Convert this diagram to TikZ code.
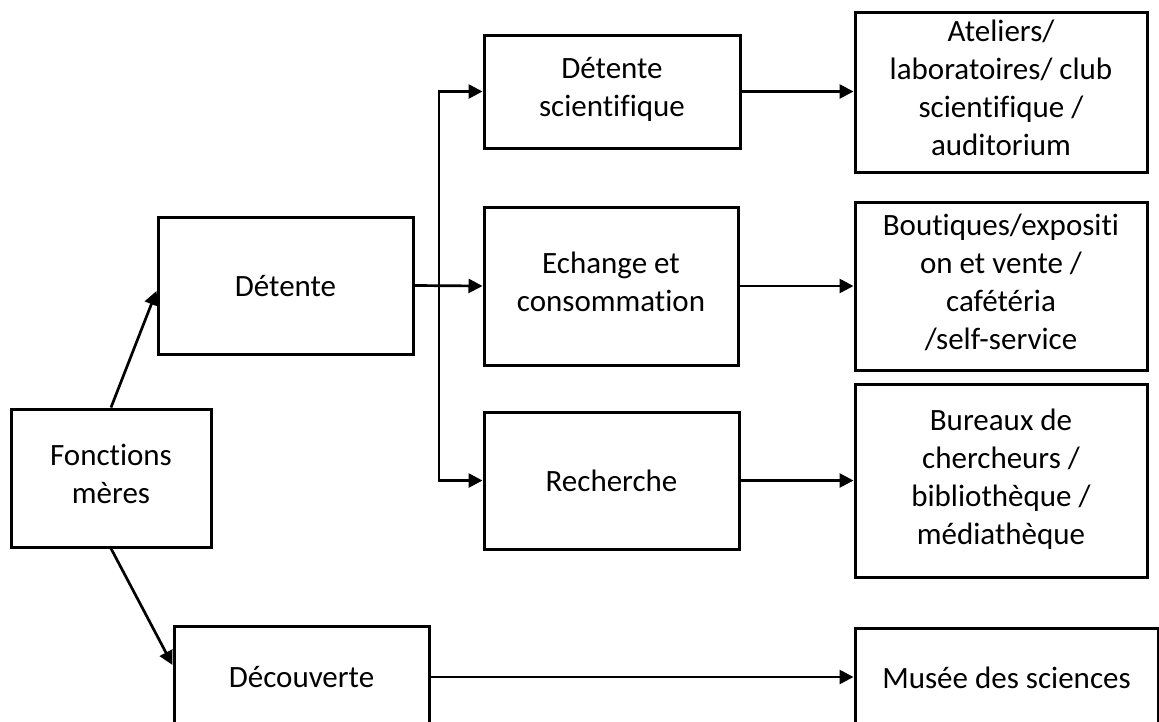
\documentclass[tikz,border=0pt]{standalone}
\usepackage{fontspec}
\setmainfont{Carlito}[Ligatures=NoCommon]
\usetikzlibrary{arrows.meta}
% strut giving each text line the full ascent/descent of the font
\newcommand\bxstrut{\rule[-8.3pt]{0pt}{37.8pt}}
\begin{document}
\begin{tikzpicture}[x=1pt,y=-1pt,
  box/.style={draw=black, line width=3pt, rectangle, inner sep=0pt, align=center,
    font=\fontsize{31}{38}\selectfont,
    execute at begin node=\bxstrut, execute at end node=\bxstrut},
  link/.style={draw=black, line width=2.7pt, line join=miter,
    -{Triangle[length=14pt,width=14pt]}}]
\useasboundingbox (0,0) rectangle (1159,721);
\path[clip] (0,0) rectangle (1159,721);

% root
\node[box, minimum width=200pt, minimum height=138pt] (F) at (111,478) {Fonctions\\mères};

% first level
\node[box, minimum width=255pt, minimum height=137pt] (D) at (285.5,285.5) {Détente};
\node[box, minimum width=255pt, minimum height=102pt] (Dc) at (301.5,677) {Découverte};

% second level
\node[box, minimum width=256pt, minimum height=113pt] (DS) at (612,91.5) {Détente\\scientifique};
\node[box, minimum width=254pt, minimum height=158pt] (E) at (611,286) {Echange et\\consommation};
\node[box, minimum width=255pt, minimum height=137pt] (Rc) at (611.5,480.5) {Recherche};

% spaces
\node[box, minimum width=292pt, minimum height=160pt] (R1) at (1001,92) {Ateliers/\\laboratoires/ club\\scientifique /\\auditorium};
\node[box, minimum width=292pt, minimum height=168pt] (R2) at (1001,286) {Boutiques/expositi\\on et vente /\\cafétéria\\/self-service};
\node[box, minimum width=292pt, minimum height=193pt] (R3) at (1001,480.5) {Bureaux de\\chercheurs /\\bibliothèque /\\médiathèque};
\node[box, minimum width=303pt, minimum height=100pt] (R4) at (1006.5,678) {Musée des sciences};

% connectors
\draw[link] (F.north) -- ([yshift=-5.5pt]D.west);
\draw[link] (F.south) -- ([yshift=12pt]Dc.west);

\coordinate (bus) at (439,0);
\draw[link] (D.east) -- (E.west);
\draw[link] (bus |- Rc.west) -- (bus |- DS.west) -- (DS.west);
\draw[link] (bus |- DS.west) -- (bus |- Rc.west) -- (Rc.west);

\draw[link] (DS.east) -- (DS.east -| R1.west);
\draw[link] (E.east) -- (E.east -| R2.west);
\draw[link] (Rc.east) -- (Rc.east -| R3.west);
\draw[link] (Dc.east) -- (Dc.east -| R4.west);
\end{tikzpicture}
\end{document}
